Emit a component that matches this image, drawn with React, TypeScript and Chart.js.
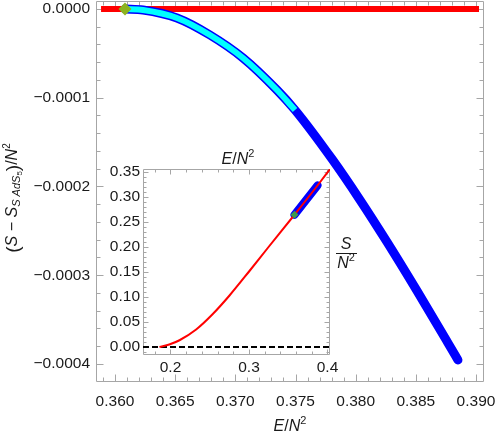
import React, { useEffect, useRef } from "react";
import { Chart, registerables } from "chart.js";
Chart.register(...registerables);

// ---------- main plot data ----------
const refLineX = [0.35884, 0.39025];
const refLineY = [0, 0];
const branchX = [0.36083, 0.36233, 0.36515, 0.36789, 0.37064, 0.37346, 0.37496, 0.37803, 0.38036, 0.3826, 0.3851, 0.38767, 0.3885];
const branchY = [0, -0.0000011, -0.0000101, -0.0000293, -0.0000552, -0.0000913, -0.0001138, -0.000169, -0.0002152, -0.0002625, -0.0003177, -0.0003763, -0.0003955];
const stableX = [0.36083, 0.36233, 0.36515, 0.36789, 0.37064, 0.37346, 0.37496];
const stableY = [0, -0.0000011, -0.0000101, -0.0000293, -0.0000552, -0.0000913, -0.0001138];
const markerX = [0.36083];
const markerY = [0];

const mainXTicks = [0.36, 0.365, 0.37, 0.375, 0.38, 0.385, 0.39];
const mainXTickLabels = ["0.360", "0.365", "0.370", "0.375", "0.380", "0.385", "0.390"];
const mainYTicks = [0, -0.0001, -0.0002, -0.0003, -0.0004];
const mainYTickLabels = ["0.0000", "\u22120.0001", "\u22120.0002", "\u22120.0003", "\u22120.0004"];

// ---------- inset data ----------
const insetCurveX = [0.186, 0.1985, 0.2115, 0.2327, 0.2539, 0.2752, 0.3006, 0.3239, 0.358, 0.3873, 0.4038];
const insetCurveY = [0, 0.005, 0.0135, 0.035, 0.066, 0.103, 0.152, 0.198, 0.2645, 0.323, 0.357];
const insetBranchX = [0.358, 0.3873];
const insetBranchY = [0.2645, 0.323];
const insetMarkerX = [0.358];
const insetMarkerY = [0.2645];
const insetZeroX = [0.165, 0.4032];
const insetZeroY = [0, 0];

const insetXTicks = [0.2, 0.3, 0.4];
const insetXTickLabels = ["0.2", "0.3", "0.4"];
const insetYTicks = [0, 0.05, 0.1, 0.15, 0.2, 0.25, 0.3, 0.35];
const insetYTickLabels = ["0.00", "0.05", "0.10", "0.15", "0.20", "0.25", "0.30", "0.35"];

const FONT = "Liberation Sans";
const TEXT = "#1a1a1a";
const FRAME = "#a6a6a6";

function steps(a: number, b: number, s: number) {
  const out: number[] = [];
  const n = Math.round((b - a) / s);
  for (let i = 0; i <= n; i++) out.push(+(a + i * s).toFixed(8));
  return out;
}

const pts = (xs: number[], ys: number[]) => xs.map((x, i) => ({ x, y: ys[i] }));

type Part = { t: string; size: number; dy?: number; italic?: boolean };
function drawRich(ctx: CanvasRenderingContext2D, parts: Part[], cx: number, baseline: number) {
  const f = (p: Part) => `${p.italic ? "italic " : ""}${p.size}px "${FONT}"`;
  let w = 0;
  for (const p of parts) {
    ctx.font = f(p);
    w += ctx.measureText(p.t).width;
  }
  let x = cx - w / 2;
  ctx.textAlign = "left";
  ctx.textBaseline = "alphabetic";
  ctx.fillStyle = TEXT;
  for (const p of parts) {
    ctx.font = f(p);
    ctx.fillText(p.t, x, baseline + (p.dy || 0));
    x += ctx.measureText(p.t).width;
  }
}

function framePlugin(cfg: { xMajor: number[]; xMinor: number[]; yMajor: number[]; yMinor: number[]; maj: number; min: number }) {
  return {
    id: "frameTicks",
    beforeDatasetsDraw(chart: any) {
      const { ctx, chartArea: a, scales } = chart;
      const xs = scales.x;
      const ys = scales.y;
      ctx.save();
      ctx.strokeStyle = FRAME;
      ctx.lineWidth = 1;
      const L = Math.round(a.left) + 0.5;
      const R = Math.round(a.right) - 0.5;
      const T = Math.round(a.top) + 0.5;
      const B = Math.round(a.bottom) - 0.5;
      ctx.beginPath();
      ctx.rect(L, T, R - L, B - T);
      const xt = (v: number, len: number) => {
        const p = Math.round(xs.getPixelForValue(v)) + 0.5;
        if (p < L - 0.1 || p > R + 0.1) return;
        ctx.moveTo(p, B);
        ctx.lineTo(p, B - len);
        ctx.moveTo(p, T);
        ctx.lineTo(p, T + len);
      };
      const yt = (v: number, len: number) => {
        const p = Math.round(ys.getPixelForValue(v)) + 0.5;
        if (p < T - 0.1 || p > B + 0.1) return;
        ctx.moveTo(L, p);
        ctx.lineTo(L + len, p);
        ctx.moveTo(R, p);
        ctx.lineTo(R - len, p);
      };
      cfg.xMinor.forEach((v) => xt(v, cfg.min));
      cfg.xMajor.forEach((v) => xt(v, cfg.maj));
      cfg.yMinor.forEach((v) => yt(v, cfg.min));
      cfg.yMajor.forEach((v) => yt(v, cfg.maj));
      ctx.stroke();
      ctx.restore();
    },
  };
}

const mainTitles = {
  id: "mainTitles",
  afterDraw(chart: any) {
    const ctx = chart.ctx as CanvasRenderingContext2D;
    ctx.save();
    drawRich(ctx, [
      { t: "E", size: 16, italic: true },
      { t: "/", size: 16 },
      { t: "N", size: 16, italic: true },
      { t: "2", size: 11, dy: -7 },
    ], 290, 431);
    ctx.translate(17, 198);
    ctx.rotate(-Math.PI / 2);
    drawRich(ctx, [
      { t: "(", size: 19, dy: 2 },
      { t: "S", size: 16, italic: true },
      { t: " \u2212 ", size: 16 },
      { t: "S", size: 16, italic: true },
      { t: "S AdS", size: 11, italic: true, dy: 3 },
      { t: "5", size: 8, dy: 5 },
      { t: ")", size: 19, dy: 2 },
      { t: "/", size: 16 },
      { t: "N", size: 16, italic: true },
      { t: "2", size: 10, dy: -7 },
    ], 0, 0);
    ctx.restore();
  },
};

const insetTitles = {
  id: "insetTitles",
  afterDraw(chart: any) {
    const ctx = chart.ctx as CanvasRenderingContext2D;
    ctx.save();
    drawRich(ctx, [
      { t: "E", size: 16, italic: true },
      { t: "/", size: 16 },
      { t: "N", size: 16, italic: true },
      { t: "2", size: 11, dy: -7 },
    ], 143, 24);
    drawRich(ctx, [{ t: "S", size: 16, italic: true }], 251, 109);
    ctx.strokeStyle = TEXT;
    ctx.lineWidth = 1;
    ctx.beginPath();
    ctx.moveTo(241, 113.5);
    ctx.lineTo(262, 113.5);
    ctx.stroke();
    drawRich(ctx, [
      { t: "N", size: 16, italic: true },
      { t: "2", size: 11, dy: -7 },
    ], 251, 128);
    ctx.restore();
  },
};

export default function App() {
  const mainRef = useRef<HTMLCanvasElement>(null);
  const insetRef = useRef<HTMLCanvasElement>(null);

  useEffect(() => {
    document.body.style.margin = "0";
    const tickFont = { family: FONT, size: 15.5 };

    const main = new Chart(mainRef.current!, {
      type: "line",
      data: {
        datasets: [
          {
            data: pts(markerX, markerY),
            showLine: false,
            pointStyle: "rectRot",
            pointRadius: 6.5,
            pointBackgroundColor: "#8db31f",
            pointBorderWidth: 0,
          },
          {
            data: pts(stableX, stableY),
            borderColor: "#00ffff",
            borderWidth: 6,
            pointRadius: 0,
            cubicInterpolationMode: "monotone",
            borderCapStyle: "butt",
          },
          {
            data: pts(branchX, branchY),
            borderColor: "#0000ff",
            borderWidth: 9,
            pointRadius: 0,
            cubicInterpolationMode: "monotone",
            borderCapStyle: "round",
          },
          {
            data: pts(refLineX, refLineY),
            borderColor: "#ff0000",
            borderWidth: 6,
            pointRadius: 0,
            borderCapStyle: "butt",
          },
        ] as any,
      },
      options: {
        animation: false,
        responsive: false,
        events: [],
        layout: { autoPadding: false, padding: { left: 0, right: 14, top: 1, bottom: 0 } },
        plugins: { legend: { display: false }, tooltip: { enabled: false } },
        scales: {
          x: {
            type: "linear",
            min: 0.35842,
            max: 0.390665,
            grid: { display: false, drawTicks: false },
            border: { display: false },
            afterBuildTicks: (s: any) => {
              s.ticks = mainXTicks.map((v) => ({ value: v }));
            },
            afterFit: (s: any) => {
              s.height = 55;
              s.paddingLeft = 0;
              s.paddingRight = 0;
            },
            ticks: {
              autoSkip: false,
              maxRotation: 0,
              padding: 10,
              color: TEXT,
              font: tickFont,
              callback: (_v: any, i: number) => mainXTickLabels[i],
            },
          },
          y: {
            type: "linear",
            min: -0.0004203,
            max: 0.000009,
            grid: { display: false, drawTicks: false },
            border: { display: false },
            afterBuildTicks: (s: any) => {
              s.ticks = mainYTicks.map((v) => ({ value: v }));
            },
            afterFit: (s: any) => {
              s.width = 96;
              s.paddingTop = 0;
              s.paddingBottom = 0;
            },
            ticks: {
              autoSkip: false,
              padding: 6,
              color: TEXT,
              font: tickFont,
              callback: (_v: any, i: number) => mainYTickLabels[i],
            },
          },
        },
      } as any,
      plugins: [
        framePlugin({
          xMajor: mainXTicks,
          xMinor: steps(0.359, 0.39, 0.001),
          yMajor: mainYTicks,
          yMinor: steps(-0.00042, 0, 0.00002),
          maj: 7,
          min: 4,
        }),
        mainTitles,
      ],
    });

    const inset = new Chart(insetRef.current!, {
      type: "line",
      data: {
        datasets: [
          {
            data: pts(insetMarkerX, insetMarkerY),
            showLine: false,
            pointStyle: "rectRot",
            pointRadius: 4,
            pointBackgroundColor: "#3f9a4c",
            pointBorderWidth: 0,
          },
          {
            data: pts(insetCurveX, insetCurveY),
            borderColor: "#ff0000",
            borderWidth: 2,
            pointRadius: 0,
            cubicInterpolationMode: "monotone",
          },
          {
            data: pts(insetBranchX, insetBranchY),
            borderColor: "#0000ff",
            borderWidth: 8,
            pointRadius: 0,
            borderCapStyle: "round",
          },
          {
            data: pts(insetZeroX, insetZeroY),
            borderColor: "#000000",
            borderWidth: 2,
            borderDash: [6, 3],
            pointRadius: 0,
          },
        ] as any,
      },
      options: {
        animation: false,
        responsive: false,
        events: [],
        layout: { autoPadding: false, padding: { left: 0, right: 45, top: 29, bottom: 0 } },
        plugins: { legend: { display: false }, tooltip: { enabled: false } },
        scales: {
          x: {
            type: "linear",
            min: 0.165,
            max: 0.4032,
            grid: { display: false, drawTicks: false },
            border: { display: false },
            afterBuildTicks: (s: any) => {
              s.ticks = insetXTicks.map((v) => ({ value: v }));
            },
            afterFit: (s: any) => {
              s.height = 25;
              s.paddingLeft = 0;
              s.paddingRight = 0;
            },
            ticks: {
              autoSkip: false,
              maxRotation: 0,
              padding: 3,
              color: TEXT,
              font: tickFont,
              callback: (_v: any, i: number) => insetXTickLabels[i],
            },
          },
          y: {
            type: "linear",
            min: -0.016,
            max: 0.356,
            grid: { display: false, drawTicks: false },
            border: { display: false },
            afterBuildTicks: (s: any) => {
              s.ticks = insetYTicks.map((v) => ({ value: v }));
            },
            afterFit: (s: any) => {
              s.width = 48;
              s.paddingTop = 0;
              s.paddingBottom = 0;
            },
            ticks: {
              autoSkip: false,
              padding: 3,
              color: TEXT,
              font: tickFont,
              callback: (_v: any, i: number) => insetYTickLabels[i],
            },
          },
        },
      } as any,
      plugins: [
        framePlugin({
          xMajor: insetXTicks,
          xMinor: steps(0.18, 0.4, 0.02),
          yMajor: insetYTicks,
          yMinor: steps(-0.01, 0.35, 0.01),
          maj: 5,
          min: 3,
        }),
        insetTitles,
      ],
    });

    return () => {
      main.destroy();
      inset.destroy();
    };
  }, []);

  return (
    <div style={{ position: "relative", width: 498, height: 437, background: "#fff" }}>
      <canvas ref={mainRef} width={498} height={437} style={{ position: "absolute", left: 0, top: 0, display: "block" }} />
      <canvas ref={insetRef} width={280} height={240} style={{ position: "absolute", left: 95, top: 140, display: "block" }} />
    </div>
  );
}
